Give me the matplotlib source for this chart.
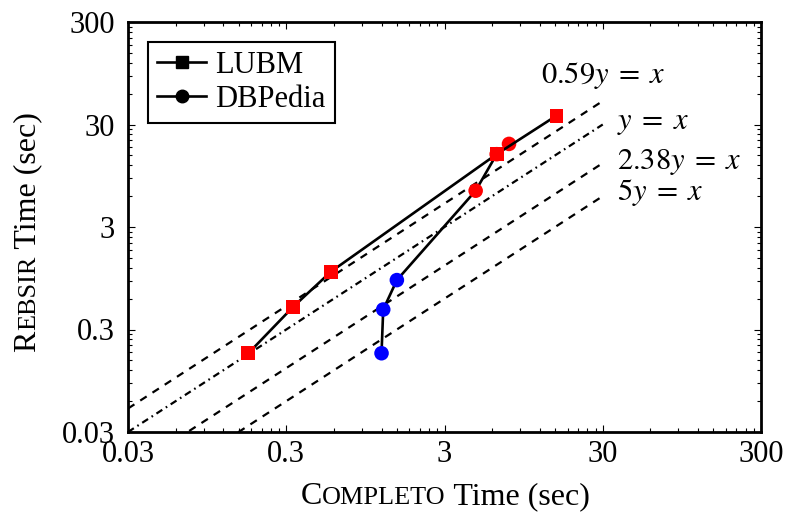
import matplotlib
matplotlib.use('Agg')
import matplotlib.pyplot as plt
from matplotlib.lines import Line2D
import numpy as np

plt.rcParams['font.family'] = ['Liberation Serif', 'DejaVu Serif']
plt.rcParams['mathtext.fontset'] = 'stix'
plt.rcParams['lines.scale_dashes'] = False

# LUBM run times (Completo vs Rebsir), seconds
lubm_x = [0.173, 0.332, 0.575, 6.41, 15.3]
lubm_y = [0.176, 0.50, 1.10, 15.4, 36.6]
lubm_colors = ['red', 'red', 'red', 'red', 'red']

# DBPedia run times, seconds
dbp_x = [1.20, 1.23, 1.50, 4.72, 6.41, 7.67]
dbp_y = [0.176, 0.47, 0.91, 6.78, 15.4, 19.4]
dbp_colors = ['blue', 'blue', 'blue', 'red', 'red', 'red']

# reference lines  k*y = x
ratios = [0.59, 1.0, 2.38, 5.0]
ratio_labels = [r'$0.59y\;=\;x$', r'$y\;=\;x$', r'$2.38y\;=\;x$', r'$5y\;=\;x$']
ratio_styles = [(0, (5.5, 5)), (0, (5, 3, 1.2, 3)), (0, (5.5, 5)), (0, (5.5, 5))]
label_pos = [(12.2, 91.0), (36.9, 31.7), (36.9, 12.95), (36.9, 6.44)]

ticks = [0.03, 0.3, 3, 30, 300]
tick_labels = ['0.03', '0.3', '3', '30', '300']
minor = [d * k for d in ticks[:-1] for k in range(2, 10)]

FS = 22

fig = plt.figure(figsize=(7.92, 5.19), dpi=100)
ax = fig.add_axes([128 / 792, 1 - 432 / 519, 633 / 792, 410 / 519])
ax.set_xscale('log')
ax.set_yscale('log')
ax.set_xlim(0.03, 300)
ax.set_ylim(0.03, 300)

xs = np.array([0.03, 30.0])
for r, ls, lab, (tx, ty) in zip(ratios, ratio_styles, ratio_labels, label_pos):
    ax.plot(xs, xs / r, color='black', lw=1.6, linestyle=ls, zorder=2)
    ax.text(tx, ty, lab, fontsize=FS, ha='left', va='center')

ax.plot(dbp_x, dbp_y, color='black', lw=1.9, zorder=3)
ax.scatter(dbp_x, dbp_y, c=dbp_colors, marker='o', s=110, linewidths=0, zorder=4)
ax.plot(lubm_x, lubm_y, color='black', lw=1.9, zorder=5)
ax.scatter(lubm_x, lubm_y, c=lubm_colors, marker='s', s=100, linewidths=0, zorder=6)

ax.set_xticks(ticks, tick_labels)
ax.set_yticks(ticks, tick_labels)
ax.set_xticks(minor, minor=True)
ax.set_yticks(minor, minor=True)
ax.xaxis.set_minor_formatter(plt.NullFormatter())
ax.yaxis.set_minor_formatter(plt.NullFormatter())
ax.tick_params(which='both', direction='in', top=True, right=True, labelsize=FS, width=0.8)
ax.tick_params(which='major', length=5)
ax.tick_params(which='minor', length=3)
ax.tick_params(axis='x', which='major', pad=6)
ax.tick_params(axis='y', which='major', pad=9.5)
for sp in ax.spines.values():
    sp.set_linewidth(2)

handles = [Line2D([], [], color='black', lw=1.9, marker='s', markersize=9),
           Line2D([], [], color='black', lw=1.9, marker='o', markersize=9)]
leg = ax.legend(handles, ['LUBM', 'DBPedia'], loc='upper left',
                bbox_to_anchor=((148 - 128) / 633, (432 - 42) / 410),
                borderaxespad=0, fontsize=FS, fancybox=False, framealpha=1,
                edgecolor='black', handlelength=1.6, handletextpad=0.3,
                labelspacing=0.15, borderpad=0.3)
leg.get_frame().set_linewidth(1.5)


def caps_label(parts, x, y, rotation=0):
    # draw pieces of different sizes one after another on a common baseline
    rend = fig.canvas.get_renderer()
    texts = [fig.text(0, 0, s, fontsize=fs, rotation=rotation, rotation_mode='anchor',
                      ha='left', va='baseline') for s, fs in parts]
    if rotation == 0:
        sizes = [t.get_window_extent(rend).width / fig.bbox.width for t in texts]
    else:
        sizes = [t.get_window_extent(rend).height / fig.bbox.height for t in texts]
    pos = -sum(sizes) / 2
    for t, w in zip(texts, sizes):
        if rotation == 0:
            t.set_position((x + pos, y))
        else:
            t.set_position((x, y + pos))
        pos += w


LFS = 23
SC = LFS * 0.82
caps_label([('C', LFS), ('OMPLETO', SC), (' Time (sec)', LFS)], 445 / 792, 1 - 504 / 519)
caps_label([('R', LFS), ('EBSIR', SC), (' Time (sec)', LFS)], 35 / 792, 1 - 232 / 519, rotation=90)

fig.savefig('out.png', dpi=100)
